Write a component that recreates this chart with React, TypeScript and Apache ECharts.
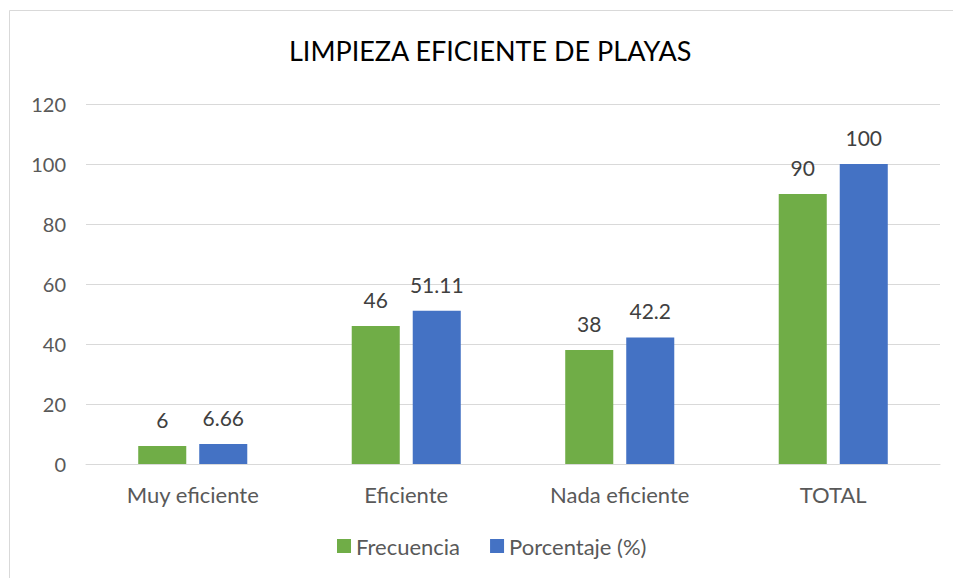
import React, { useEffect, useRef } from "react";
import * as echarts from "echarts";

const categories = ["Muy eficiente", "Eficiente", "Nada eficiente", "TOTAL"];
const frecuencia = [6, 46, 38, 90];
const porcentaje = [6.66, 51.11, 42.2, 100];
const seriesNames = ["Frecuencia", "Porcentaje (%)"];
const titleText = "LIMPIEZA EFICIENTE DE PLAYAS";

const FONT = "Lato, 'Open Sans', sans-serif";

export default function App() {
  const ref = useRef<HTMLDivElement>(null);
  useEffect(() => {
    if (!ref.current) return;
    const chart = echarts.init(ref.current, undefined, { renderer: "svg" });
    const labelStyle = {
      show: true,
      position: "top" as const,
      distance: 16,
      color: "#404040",
      fontSize: 21,
      fontFamily: FONT,
    };
    chart.setOption({
      animation: false,
      backgroundColor: "#ffffff",
      textStyle: { fontFamily: FONT },
      title: {
        text: titleText,
        left: 284,
        top: 32,
        textStyle: { color: "#000000", fontSize: 27, fontWeight: "normal", fontFamily: FONT },
      },
      graphic: [
        {
          type: "rect",
          shape: { x: 9.5, y: 10.5, width: 1000, height: 700 },
          style: { fill: "none", stroke: "#d9d9d9", lineWidth: 1 },
          silent: true,
        },
      ],
      legend: {
        bottom: 16,
        left: 332,
        itemWidth: 14,
        itemHeight: 14,
        itemGap: 30,
        icon: "rect",
        textStyle: { color: "#595959", fontSize: 22, fontFamily: FONT },
        data: seriesNames,
      },
      grid: { left: 86, right: 13, top: 104, bottom: 114, containLabel: false },
      xAxis: {
        type: "category",
        data: categories,
        axisLine: { lineStyle: { color: "#d9d9d9", width: 1 } },
        axisTick: { show: false },
        axisLabel: { color: "#595959", fontSize: 22, margin: 19, fontFamily: FONT },
      },
      yAxis: {
        type: "value",
        min: 0,
        max: 120,
        interval: 20,
        axisLine: { show: false },
        axisTick: { show: false },
        splitLine: { lineStyle: { color: "#d9d9d9", width: 1 } },
        axisLabel: { color: "#595959", fontSize: 20, margin: 20, fontFamily: FONT },
      },
      series: [
        {
          name: seriesNames[0],
          type: "bar",
          data: frecuencia,
          barWidth: "22.5%",
          barGap: "27%",
          itemStyle: { color: "#70ad47" },
          label: labelStyle,
        },
        {
          name: seriesNames[1],
          type: "bar",
          data: porcentaje,
          barWidth: "22.5%",
          barGap: "27%",
          itemStyle: { color: "#4472c4" },
          label: labelStyle,
        },
      ],
    });
    return () => chart.dispose();
  }, []);
  return (
    <div
      ref={ref}
      style={{ position: "absolute", left: 0, top: 0, width: 953, height: 578 }}
    />
  );
}
